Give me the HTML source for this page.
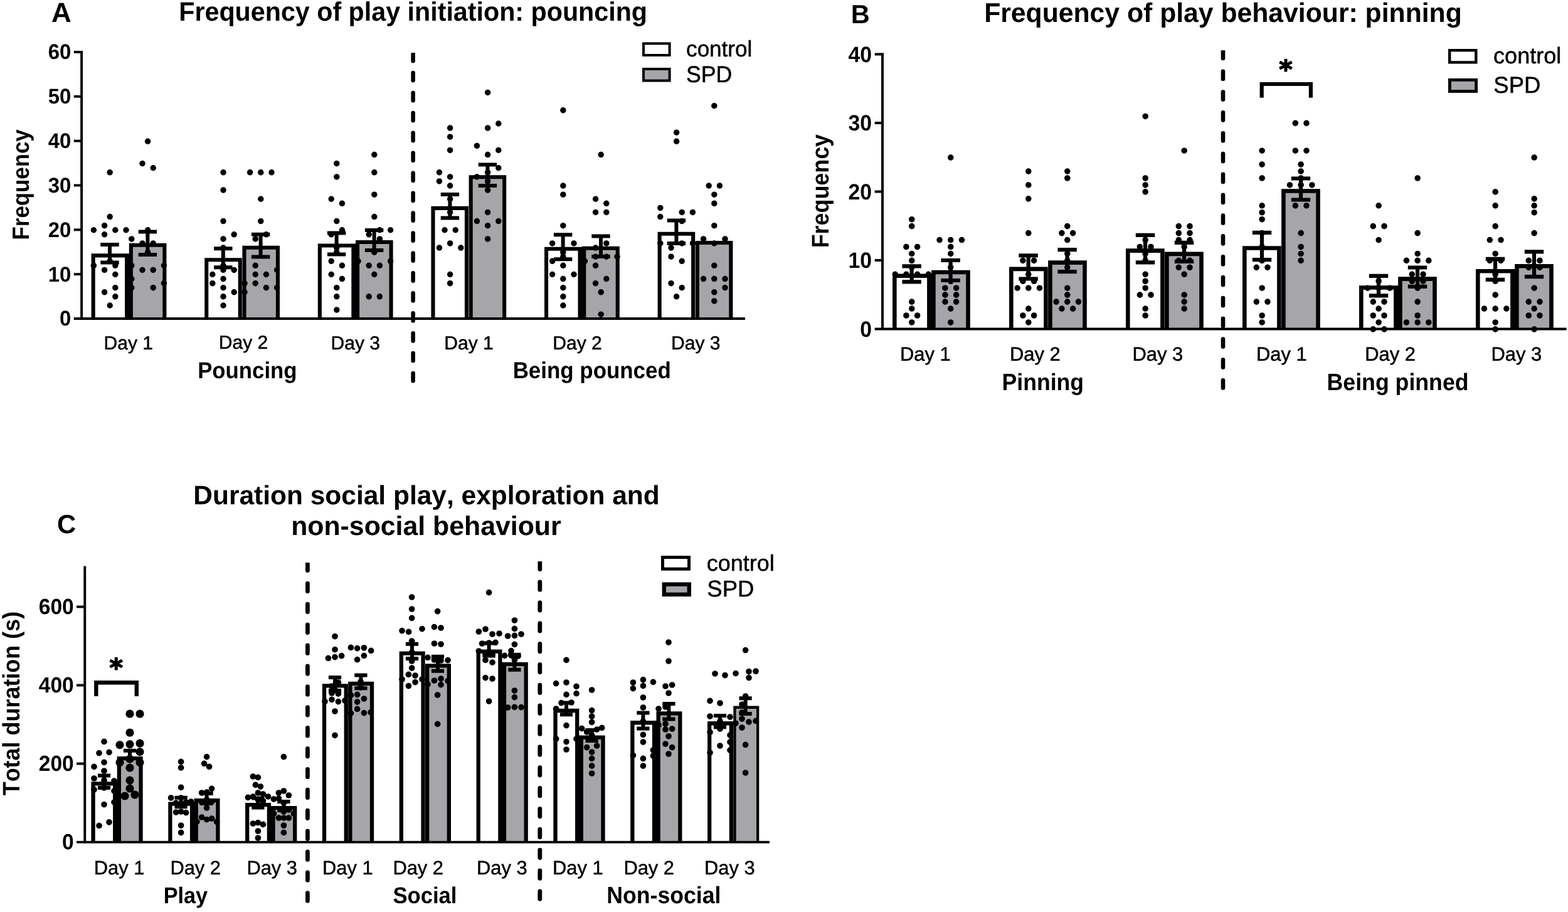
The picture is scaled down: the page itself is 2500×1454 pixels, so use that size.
<!DOCTYPE html>
<html lang="en"><head><meta charset="utf-8"><title>Social play behaviour: pouncing, pinning and durations</title>
<style>
html,body{margin:0;padding:0;background:#fff}
body{width:2500px;height:1454px;overflow:hidden}
svg{display:block}
svg path,svg rect{fill:none;stroke:#000}
svg text{fill:#000;stroke:none;white-space:pre;font-kerning:none;text-rendering:geometricPrecision}
svg .g{fill:#a6a5aa}svg .w{fill:#fff}svg .k{fill:#000;stroke:none}
.r{font-family:"Liberation Sans",sans-serif;font-weight:400;stroke:#000;stroke-width:.5px}
.b{font-family:"Liberation Sans",sans-serif;font-weight:700}
.d{font-family:"DejaVu Sans","Liberation Sans",sans-serif;font-weight:700}
</style></head><body>
<svg width="2500" height="1454" viewBox="0 0 2500 1454">
<rect x="0" y="0" width="2500" height="1454" style="fill:#fff;stroke:none"/>
<g id="panelA">
<path d="M148.65 508V407.35H202.15V508" class="w" stroke-width="6.1"/>
<path d="M208.85 508V390.75H262.35V508" class="g" stroke-width="6.1"/>
<path d="M205.5 404.3L205.5 508" stroke-width="1.8"/>
<path d="M329.25 508V414.3H382.75V508" class="w" stroke-width="6.1"/>
<path d="M389.45 508V394.7H442.95V508" class="g" stroke-width="6.1"/>
<path d="M509.85 508V391.55H563.35V508" class="w" stroke-width="6.1"/>
<path d="M570.05 508V386.05H623.55V508" class="g" stroke-width="6.1"/>
<path d="M566.7 388.5L566.7 508" stroke-width="1.8"/>
<path d="M690.45 508V331.85H743.95V508" class="w" stroke-width="6.1"/>
<path d="M750.65 508V282.3H804.15V508" class="g" stroke-width="6.1"/>
<path d="M871.05 508V396.75H924.55V508" class="w" stroke-width="6.1"/>
<path d="M931.25 508V395.75H984.75V508" class="g" stroke-width="6.1"/>
<path d="M927.9 393.7L927.9 508" stroke-width="1.8"/>
<path d="M1051.65 508V372.75H1105.15V508" class="w" stroke-width="6.1"/>
<path d="M1111.85 508V387.05H1165.35V508" class="g" stroke-width="6.1"/>
<path d="M175.2 274.81h0M175.2 345.54h0M166.6 359.69h0M149.4 366.76h0M183.8 366.76h0M201 366.76h0M166.6 373.83h0M175.2 416.27h0M149.4 423.34h0M183.8 423.34h0M166.6 430.42h0M183.8 437.49h0M183.8 458.71h0M166.6 465.78h0M183.8 472.86h0M175.2 487h0" stroke-width="9.5" stroke-linecap="round"/>
<path d="M160.3 390H189.7M160.3 418.6H189.7M175 390V418.6" stroke-width="6"/>
<path d="M235.6 225.3h0M227 260.67h0M244.2 267.74h0M235.6 366.76h0M209.8 380.91h0M227 387.98h0M244.2 387.98h0M235.6 402.13h0M209.8 423.34h0M261.4 423.34h0M227 430.42h0M244.2 430.42h0M209.8 444.56h0M261.4 451.64h0M209.8 458.71h0M244.2 458.71h0" stroke-width="9.5" stroke-linecap="round"/>
<path d="M220.7 369.4H250.1M220.7 406H250.1M235.4 369.4V406" stroke-width="6"/>
<path d="M356 274.81h0M356 303.1h0M356 352.62h0M373.2 373.83h0M356 380.91h0M356 395.05h0M356 423.34h0M356 430.42h0M373.2 430.42h0M338.8 437.49h0M356 444.56h0M338.8 451.64h0M356 458.71h0M373.2 465.78h0M356 472.86h0M356 487h0" stroke-width="9.5" stroke-linecap="round"/>
<path d="M341.1 396.2H370.5M341.1 426.3H370.5M355.8 396.2V426.3" stroke-width="6"/>
<path d="M398.6 274.81h0M415.8 274.81h0M433 274.81h0M415.8 317.25h0M415.8 352.62h0M424.4 373.83h0M407.2 380.91h0M407.2 423.34h0M441.6 430.42h0M407.2 437.49h0M424.4 437.49h0M390 451.64h0M407.2 451.64h0M424.4 458.71h0M441.6 458.71h0M390 465.78h0" stroke-width="9.5" stroke-linecap="round"/>
<path d="M400.9 373.8H430.3M400.9 409.5H430.3M415.6 373.8V409.5" stroke-width="6"/>
<path d="M536.8 260.67h0M536.8 281.89h0M528.2 317.25h0M545.4 324.32h0M536.8 352.62h0M545.4 366.76h0M528.2 373.83h0M536.8 395.05h0M536.8 402.13h0M528.2 416.27h0M545.4 423.34h0M528.2 437.49h0M545.4 444.56h0M536.8 458.71h0M536.8 472.86h0M536.8 494.07h0" stroke-width="9.5" stroke-linecap="round"/>
<path d="M521.9 371.6H551.3M521.9 405.5H551.3M536.6 371.6V405.5" stroke-width="6"/>
<path d="M596.8 246.52h0M596.8 274.81h0M596.8 310.18h0M596.8 345.54h0M605.4 366.76h0M622.6 366.76h0M588.2 373.83h0M605.4 380.91h0M596.8 402.13h0M571 416.27h0M622.6 416.27h0M588.2 423.34h0M605.4 423.34h0M596.8 437.49h0M588.2 472.86h0M605.4 472.86h0" stroke-width="9.5" stroke-linecap="round"/>
<path d="M581.9 367H611.3M581.9 399H611.3M596.6 367V399" stroke-width="6"/>
<path d="M717.6 204.08h0M717.6 218.23h0M717.6 239.45h0M700.4 274.81h0M717.6 281.89h0M700.4 288.96h0M717.6 296.03h0M717.6 317.25h0M717.6 338.47h0M709 366.76h0M726.2 366.76h0M717.6 387.98h0M700.4 395.05h0M734.8 395.05h0M717.6 437.49h0M717.6 451.64h0" stroke-width="9.5" stroke-linecap="round"/>
<path d="M702.7 310H732.1M702.7 347.5H732.1M717.4 310V347.5" stroke-width="6"/>
<path d="M777.6 147.5h0M794.8 197.01h0M777.6 204.08h0M760.4 232.38h0M794.8 239.45h0M777.6 246.52h0M794.8 267.74h0M777.6 274.81h0M760.4 281.89h0M777.6 288.96h0M777.6 303.1h0M777.6 338.47h0M760.4 352.62h0M794.8 352.62h0M777.6 359.69h0M777.6 380.91h0" stroke-width="9.5" stroke-linecap="round"/>
<path d="M762.7 262.5H792.1M762.7 296H792.1M777.4 262.5V296" stroke-width="6"/>
<path d="M897.8 175.79h0M897.8 296.03h0M897.8 310.18h0M897.8 359.69h0M880.6 387.98h0M915 387.98h0M897.8 402.13h0M897.8 409.2h0M880.6 416.27h0M897.8 423.34h0M880.6 437.49h0M915 437.49h0M897.8 444.56h0M897.8 458.71h0M897.8 472.86h0M897.8 487h0" stroke-width="9.5" stroke-linecap="round"/>
<path d="M882.9 374.2H912.3M882.9 413.2H912.3M897.6 374.2V413.2" stroke-width="6"/>
<path d="M958.2 246.52h0M949.6 317.25h0M966.8 324.32h0M949.6 338.47h0M966.8 338.47h0M966.8 387.98h0M949.6 395.05h0M949.6 409.2h0M966.8 409.2h0M984 409.2h0M932.4 416.27h0M949.6 423.34h0M966.8 444.56h0M949.6 451.64h0M958.2 465.78h0M958.2 501.15h0" stroke-width="9.5" stroke-linecap="round"/>
<path d="M943.3 376.4H972.7M943.3 409H972.7M958 376.4V409" stroke-width="6"/>
<path d="M1078.6 211.16h0M1078.6 225.3h0M1052.8 331.4h0M1087.2 338.47h0M1104.4 338.47h0M1052.8 345.54h0M1087.2 352.62h0M1052.8 387.98h0M1087.2 387.98h0M1104.4 387.98h0M1070 395.05h0M1070 409.2h0M1087.2 416.27h0M1070 451.64h0M1087.2 458.71h0M1078.6 472.86h0" stroke-width="9.5" stroke-linecap="round"/>
<path d="M1063.7 351.4H1093.1M1063.7 388H1093.1M1078.4 351.4V388" stroke-width="6"/>
<path d="M1138.8 168.72h0M1130.2 296.03h0M1147.4 296.03h0M1138.8 310.18h0M1138.8 324.32h0M1138.8 359.69h0M1121.6 380.91h0M1156 380.91h0M1138.8 387.98h0M1138.8 423.34h0M1121.6 444.56h0M1138.8 444.56h0M1156 444.56h0M1156 458.71h0M1138.8 465.78h0M1138.8 479.93h0" stroke-width="9.5" stroke-linecap="round"/>
<path d="M130.1 81L130.1 508" stroke-width="3.9"/>
<path d="M117.8 508L1188 508" stroke-width="3.9"/>
<path d="M117.8 83L130 83" stroke-width="3.9"/>
<path d="M117.8 153.83L130 153.83" stroke-width="3.9"/>
<path d="M117.8 224.67L130 224.67" stroke-width="3.9"/>
<path d="M117.8 295.5L130 295.5" stroke-width="3.9"/>
<path d="M117.8 366.33L130 366.33" stroke-width="3.9"/>
<path d="M117.8 437.17L130 437.17" stroke-width="3.9"/>
<text class="b" font-size="32.9" transform="translate(76.75 94.47) scale(1 1.03)">60</text>
<text class="b" font-size="32.9" transform="translate(76.75 165.3) scale(1 1.03)">50</text>
<text class="b" font-size="32.9" transform="translate(76.75 236.13) scale(1 1.03)">40</text>
<text class="b" font-size="32.9" transform="translate(76.75 306.94) scale(1 1.03)">30</text>
<text class="b" font-size="32.9" transform="translate(76.75 377.8) scale(1 1.03)">20</text>
<text class="b" font-size="32.9" transform="translate(76.75 448.63) scale(1 1.03)">10</text>
<text class="b" font-size="32.9" transform="translate(95.05 519.47) scale(1 1.03)">0</text>
<path d="M655.35 84.2h6.5V97.25a3.25 3.25 0 0 1 -6.5 0Z" class="k"/>
<path d="M658.6 116.05v12.3M658.6 147.98v12.3M658.6 179.91v12.3M658.6 211.84v12.3M658.6 243.77v12.3M658.6 275.7v12.3M658.6 307.63v12.3M658.6 339.56v12.3M658.6 371.49v12.3M658.6 403.42v12.3M658.6 435.35v12.3M658.6 467.28v12.3M658.6 499.21v12.3M658.6 531.14v12.3M658.6 563.07v12.3M658.6 595v12.3" stroke-width="6.5" stroke-linecap="round"/>
</g>
<g id="textA">
<text class="b" font-size="43.97" x="82.11" y="35" >A</text>
<text class="b" font-size="41.24" transform="translate(285.24 33) scale(1 1.03)" >Frequency of play initiation: pouncing</text>
<text class="b" font-size="34.83" transform="translate(45.9 382.43) rotate(-90) scale(1 1.08)">Frequency</text>
<text class="r" font-size="30" x="165.54" y="556.75" >Day 1</text>
<text class="r" font-size="30" x="348.79" y="555.75" >Day 2</text>
<text class="r" font-size="30" x="527.54" y="556.75" >Day 3</text>
<text class="r" font-size="30" x="708.29" y="556.75" >Day 1</text>
<text class="r" font-size="30" x="881.29" y="556.75" >Day 2</text>
<text class="r" font-size="30" x="1070.04" y="556.75" >Day 3</text>
<text class="b" font-size="34.77" transform="translate(315.17 603) scale(1 1.06)" >Pouncing</text>
<text class="b" font-size="34.91" transform="translate(817.66 603) scale(1 1.06)" >Being pounced</text>
<rect x="1026" y="69.4" width="41.6" height="18.6" class="w" stroke-width="4"/>
<rect x="1026" y="110" width="41.6" height="18.6" class="g" stroke-width="4"/>
<text class="r" font-size="35.06" transform="translate(1094.11 90) scale(1 1.02)" >control</text>
<text class="r" font-size="35.66" transform="translate(1093.98 130.6) scale(1 1.03)" >SPD</text>
</g>
<g id="panelB">
<path d="M1426.3 524.5V439.8H1481.4V524.5" class="w" stroke-width="6.6"/>
<path d="M1488.4 524.5V434H1543.5V524.5" class="g" stroke-width="6.6"/>
<path d="M1484.9 436.5L1484.9 524.5" stroke-width="1.8"/>
<path d="M1612.3 524.5V428.9H1667.4V524.5" class="w" stroke-width="6.6"/>
<path d="M1674.4 524.5V418.6H1729.5V524.5" class="g" stroke-width="6.6"/>
<path d="M1798.3 524.5V399.6H1853.4V524.5" class="w" stroke-width="6.6"/>
<path d="M1860.4 524.5V404.85H1915.5V524.5" class="g" stroke-width="6.6"/>
<path d="M1984.3 524.5V395.5H2039.4V524.5" class="w" stroke-width="6.6"/>
<path d="M2046.4 524.5V304.5H2101.5V524.5" class="g" stroke-width="6.6"/>
<path d="M2170.3 524.5V458.55H2225.4V524.5" class="w" stroke-width="6.6"/>
<path d="M2232.4 524.5V444.65H2287.5V524.5" class="g" stroke-width="6.6"/>
<path d="M2228.9 455.25L2228.9 524.5" stroke-width="1.8"/>
<path d="M2356.3 524.5V432.3H2411.4V524.5" class="w" stroke-width="6.6"/>
<path d="M2418.4 524.5V424.2H2473.5V524.5" class="g" stroke-width="6.6"/>
<path d="M2414.9 429L2414.9 524.5" stroke-width="1.8"/>
<path d="M1453.75 349.7h0M1453.75 360.65h0M1444.9 393.5h0M1462.6 393.5h0M1453.75 404.45h0M1453.75 415.4h0M1453.75 426.35h0M1427.2 437.3h0M1444.9 437.3h0M1462.6 437.3h0M1480.3 437.3h0M1453.75 481.1h0M1453.75 492.05h0M1444.9 503h0M1462.6 503h0M1453.75 513.95h0" stroke-width="9.56" stroke-linecap="round"/>
<path d="M1438.4 424.3H1468.8M1438.4 449.3H1468.8M1453.6 424.3V449.3" stroke-width="6.2"/>
<path d="M1515.75 251.15h0M1498.05 382.55h0M1515.75 382.55h0M1533.45 382.55h0M1515.75 393.5h0M1515.75 404.45h0M1515.75 426.35h0M1515.75 448.25h0M1506.9 459.2h0M1524.6 459.2h0M1506.9 470.15h0M1524.6 470.15h0M1506.9 481.1h0M1524.6 481.1h0M1515.75 492.05h0M1515.75 513.95h0" stroke-width="9.56" stroke-linecap="round"/>
<path d="M1500.4 415H1530.8M1500.4 447H1530.8M1515.6 415V447" stroke-width="6.2"/>
<path d="M1639.75 273.05h0M1639.75 294.95h0M1639.75 316.85h0M1639.75 371.6h0M1630.9 415.4h0M1648.6 415.4h0M1639.75 437.3h0M1630.9 448.25h0M1648.6 448.25h0M1622.05 459.2h0M1639.75 459.2h0M1657.45 459.2h0M1639.75 492.05h0M1630.9 503h0M1648.6 503h0M1639.75 513.95h0" stroke-width="9.56" stroke-linecap="round"/>
<path d="M1624.4 407.3H1654.8M1624.4 444.5H1654.8M1639.6 407.3V444.5" stroke-width="6.2"/>
<path d="M1701.75 273.05h0M1701.75 284h0M1701.75 360.65h0M1692.9 371.6h0M1710.6 371.6h0M1701.75 382.55h0M1701.75 404.45h0M1701.75 415.4h0M1701.75 426.35h0M1701.75 459.2h0M1701.75 470.15h0M1684.05 481.1h0M1701.75 481.1h0M1719.45 481.1h0M1692.9 492.05h0M1710.6 492.05h0" stroke-width="9.56" stroke-linecap="round"/>
<path d="M1686.4 398.1H1716.8M1686.4 433.1H1716.8M1701.6 398.1V433.1" stroke-width="6.2"/>
<path d="M1826.15 185.45h0M1826.15 284h0M1826.15 294.95h0M1826.15 305.9h0M1826.15 382.55h0M1817.3 393.5h0M1835 393.5h0M1826.15 404.45h0M1826.15 415.4h0M1826.15 437.3h0M1826.15 448.25h0M1826.15 459.2h0M1817.3 470.15h0M1835 470.15h0M1826.15 492.05h0M1826.15 503h0" stroke-width="9.56" stroke-linecap="round"/>
<path d="M1810.8 374.8H1841.2M1810.8 418.4H1841.2M1826 374.8V418.4" stroke-width="6.2"/>
<path d="M1888.15 240.2h0M1879.3 360.65h0M1897 360.65h0M1879.3 371.6h0M1897 371.6h0M1879.3 382.55h0M1897 382.55h0M1888.15 393.5h0M1879.3 415.4h0M1897 415.4h0M1879.3 426.35h0M1897 426.35h0M1888.15 437.3h0M1888.15 470.15h0M1888.15 481.1h0M1888.15 492.05h0" stroke-width="9.56" stroke-linecap="round"/>
<path d="M1872.8 386.9H1903.2M1872.8 416.8H1903.2M1888 386.9V416.8" stroke-width="6.2"/>
<path d="M2012.15 240.2h0M2012.15 262.1h0M2012.15 284h0M2012.15 327.8h0M2012.15 338.75h0M2012.15 349.7h0M2012.15 371.6h0M2012.15 393.5h0M2012.15 415.4h0M2003.3 426.35h0M2021 426.35h0M2012.15 459.2h0M2003.3 481.1h0M2021 481.1h0M2012.15 503h0M2012.15 513.95h0" stroke-width="9.56" stroke-linecap="round"/>
<path d="M1996.8 370.9H2027.2M1996.8 414.1H2027.2M2012 370.9V414.1" stroke-width="6.2"/>
<path d="M2065.3 196.4h0M2083 196.4h0M2065.3 240.2h0M2083 240.2h0M2074.15 262.1h0M2074.15 273.05h0M2074.15 284h0M2056.45 294.95h0M2074.15 294.95h0M2091.85 294.95h0M2065.3 327.8h0M2083 327.8h0M2074.15 371.6h0M2074.15 393.5h0M2074.15 404.45h0M2074.15 415.4h0" stroke-width="9.56" stroke-linecap="round"/>
<path d="M2058.8 284.5H2089.2M2058.8 318.5H2089.2M2074 284.5V318.5" stroke-width="6.2"/>
<path d="M2198.15 327.8h0M2189.3 360.65h0M2207 360.65h0M2198.15 382.55h0M2198.15 448.25h0M2180.45 459.2h0M2198.15 459.2h0M2215.85 459.2h0M2189.3 481.1h0M2207 481.1h0M2198.15 492.05h0M2189.3 503h0M2207 503h0M2198.15 513.95h0M2189.3 524.9h0M2207 524.9h0" stroke-width="9.56" stroke-linecap="round"/>
<path d="M2182.8 439.8H2213.2M2182.8 471.3H2213.2M2198 439.8V471.3" stroke-width="6.2"/>
<path d="M2260.15 284h0M2260.15 371.6h0M2260.15 404.45h0M2242.45 415.4h0M2260.15 415.4h0M2277.85 415.4h0M2251.3 437.3h0M2269 437.3h0M2251.3 448.25h0M2269 448.25h0M2260.15 459.2h0M2260.15 481.1h0M2260.15 503h0M2242.45 513.95h0M2260.15 513.95h0M2277.85 513.95h0" stroke-width="9.56" stroke-linecap="round"/>
<path d="M2244.8 426.5H2275.2M2244.8 456.8H2275.2M2260 426.5V456.8" stroke-width="6.2"/>
<path d="M2384.15 305.9h0M2384.15 327.8h0M2384.15 360.65h0M2375.3 382.55h0M2393 382.55h0M2384.15 404.45h0M2375.3 415.4h0M2393 415.4h0M2384.15 437.3h0M2384.15 448.25h0M2384.15 470.15h0M2366.45 492.05h0M2384.15 492.05h0M2401.85 492.05h0M2384.15 513.95h0M2384.15 524.9h0" stroke-width="9.56" stroke-linecap="round"/>
<path d="M2368.8 412.8H2399.2M2368.8 445.8H2399.2M2384 412.8V445.8" stroke-width="6.2"/>
<path d="M2446.15 251.15h0M2446.15 316.85h0M2446.15 327.8h0M2446.15 338.75h0M2446.15 371.6h0M2437.3 415.4h0M2455 415.4h0M2437.3 426.35h0M2455 426.35h0M2446.15 459.2h0M2437.3 481.1h0M2455 481.1h0M2446.15 492.05h0M2437.3 503h0M2455 503h0M2446.15 524.9h0" stroke-width="9.56" stroke-linecap="round"/>
<path d="M2430.8 401.3H2461.2M2430.8 441.1H2461.2M2446 401.3V441.1" stroke-width="6.2"/>
<path d="M1407 84.5L1407 524.5" stroke-width="4"/>
<path d="M1394.7 524.5L2497.5 524.5" stroke-width="4"/>
<path d="M1394.7 86.5L1407 86.5" stroke-width="4"/>
<path d="M1394.7 196L1407 196" stroke-width="4"/>
<path d="M1394.7 305.5L1407 305.5" stroke-width="4"/>
<path d="M1394.7 415L1407 415" stroke-width="4"/>
<text class="b" font-size="33.7" transform="translate(1352.5 98.58) scale(1 1.05)">40</text>
<text class="b" font-size="33.7" transform="translate(1352.5 208.05) scale(1 1.05)">30</text>
<text class="b" font-size="33.7" transform="translate(1352.5 317.58) scale(1 1.05)">20</text>
<text class="b" font-size="33.7" transform="translate(1352.5 427.08) scale(1 1.05)">10</text>
<text class="b" font-size="33.7" transform="translate(1371.24 536.58) scale(1 1.05)">0</text>
<path d="M1946.7 80.3h6.6V93a3.3 3.3 0 0 1 -6.6 0Z" class="k"/>
<path d="M1950 113.7v12.2M1950 146.54v12.2M1950 179.38v12.2M1950 212.22v12.2M1950 245.06v12.2M1950 277.9v12.2M1950 310.74v12.2M1950 343.58v12.2M1950 376.42v12.2M1950 409.26v12.2M1950 442.1v12.2M1950 474.94v12.2M1950 507.78v12.2M1950 540.62v12.2M1950 573.46v12.2M1950 606.3v12.2" stroke-width="6.6" stroke-linecap="round"/>
<path d="M2011.7 155.8V134H2089.9V155.8" stroke-width="6.2" stroke-linejoin="miter"/>
<text class="d" font-size="41" x="2039.13" y="124.51" style="stroke:#000;stroke-width:1.6px;stroke-linejoin:round">*</text>
</g>
<g id="textB">
<text class="b" font-size="41.65" x="1356.81" y="37" >B</text>
<text class="b" font-size="42.71" transform="translate(1569.14 34.85) scale(1 1.01)" >Frequency of play behaviour: pinning</text>
<text class="b" font-size="35.87" transform="translate(1320.8 395.3) rotate(-90) scale(1 1.07)">Frequency</text>
<text class="r" font-size="30.9" x="1434.97" y="574.5" >Day 1</text>
<text class="r" font-size="30.9" x="1609.97" y="574.5" >Day 2</text>
<text class="r" font-size="30.9" x="1805.47" y="574.5" >Day 3</text>
<text class="r" font-size="30.9" x="2002.97" y="574.5" >Day 1</text>
<text class="r" font-size="30.9" x="2176.22" y="574.5" >Day 2</text>
<text class="r" font-size="30.9" x="2377.47" y="574.5" >Day 3</text>
<text class="b" font-size="35.6" transform="translate(1597.62 621.75) scale(1 1.06)" >Pinning</text>
<text class="b" font-size="35.68" transform="translate(2115.61 621.75) scale(1 1.06)" >Being pinned</text>
<rect x="2311.2" y="80.2" width="42.1" height="19.2" class="w" stroke-width="4.4"/>
<rect x="2311.4" y="127.4" width="42.2" height="18.2" class="g" stroke-width="4.8"/>
<text class="r" font-size="36.1" x="2381.07" y="100.6" >control</text>
<text class="r" font-size="36.48" transform="translate(2381.34 148) scale(1 1.01)" >SPD</text>
</g>
<g id="panelC">
<path d="M148.55 1342.6V1249.45H183.25V1342.6" class="w" stroke-width="6.3"/>
<path d="M189.85 1342.6V1209.15H224.55V1342.6" class="g" stroke-width="6.3"/>
<path d="M186.55 1246.3L186.55 1342.6" stroke-width="1.8"/>
<path d="M271.38 1342.6V1281.65H306.08V1342.6" class="w" stroke-width="6.3"/>
<path d="M312.68 1342.6V1276.15H347.38V1342.6" class="g" stroke-width="6.3"/>
<path d="M309.38 1278.5L309.38 1342.6" stroke-width="1.8"/>
<path d="M394.2 1342.6V1283.15H428.9V1342.6" class="w" stroke-width="6.3"/>
<path d="M435.5 1342.6V1288.15H470.2V1342.6" class="g" stroke-width="6.3"/>
<path d="M432.2 1285L432.2 1342.6" stroke-width="1.8"/>
<path d="M517.02 1342.6V1093.45H551.73V1342.6" class="w" stroke-width="6.3"/>
<path d="M558.32 1342.6V1089.95H593.02V1342.6" class="g" stroke-width="6.3"/>
<path d="M639.85 1342.6V1041.55H674.55V1342.6" class="w" stroke-width="6.3"/>
<path d="M681.15 1342.6V1061.45H715.85V1342.6" class="g" stroke-width="6.3"/>
<path d="M762.67 1342.6V1038.65H797.38V1342.6" class="w" stroke-width="6.3"/>
<path d="M803.97 1342.6V1058.95H838.67V1342.6" class="g" stroke-width="6.3"/>
<path d="M800.67 1055.8L800.67 1342.6" stroke-width="1.8"/>
<path d="M885.5 1342.6V1133H920.2V1342.6" class="w" stroke-width="6.3"/>
<path d="M926.8 1342.6V1175.65H961.5V1342.6" class="g" stroke-width="6.3"/>
<path d="M923.5 1172.5L923.5 1342.6" stroke-width="1.8"/>
<path d="M1008.32 1342.6V1152.25H1043.02V1342.6" class="w" stroke-width="6.3"/>
<path d="M1049.62 1342.6V1137.4H1084.32V1342.6" class="g" stroke-width="6.3"/>
<path d="M1046.33 1149.1L1046.33 1342.6" stroke-width="1.8"/>
<path d="M1131.15 1342.6V1153.25H1165.85V1342.6" class="w" stroke-width="6.3"/>
<path d="M1171.45 1342.6V1127.75H1208.15V1342.6" class="g" stroke-width="4.3"/>
<path d="M166 1182.4h0M158 1200.6h0M174 1199.4h0M166 1215.4h0M150 1222.4h0M166 1229h0M150 1241h0M182 1245h0M166 1256h0M150 1259h0M182 1261h0M182 1279h0M166 1282.6h0M174 1310.8h0M158 1316.4h0M166 1244h0" stroke-width="9.7" stroke-linecap="round"/>
<path d="M155.9 1236.6H176.1M155.9 1256H176.1M166 1236.6V1256" stroke-width="6"/>
<path d="M207 1138h0M223 1138h0M207 1168h0M223 1185h0M207 1186.6h0M191 1187.6h0M223 1198.6h0M207 1210h0M191 1215.6h0M223 1215.6h0M207 1224h0M207 1244h0M207 1257h0M199 1269h0M215 1267h0" stroke-width="13.2" stroke-linecap="round"/>
<path d="M196.9 1196.8H217.1M207 1196.8V1215.2" stroke-width="6"/>
<path d="M288.6 1214.4h0M288.6 1224h0M288.6 1255.4h0M272.6 1272h0M288.6 1272h0M296.6 1279h0M304.6 1278h0M280.6 1295h0M288.6 1294h0M296.6 1295.6h0M288.6 1316h0M288.6 1327.4h0M280.6 1280h0M288.6 1283h0" stroke-width="9.7" stroke-linecap="round"/>
<path d="M278.5 1271.8H298.7M278.5 1286.2H298.7M288.6 1271.8V1286.2" stroke-width="6"/>
<path d="M329.6 1206.6h0M325.6 1217.4h0M333.6 1222.4h0M337.6 1257.4h0M321.6 1264h0M329.6 1263h0M329.6 1288h0M321.6 1303h0M329.6 1306.6h0M337.6 1305h0M345.6 1310.4h0M313.8 1310h0M329.6 1275h0M337.6 1278h0M321.6 1279h0" stroke-width="9.7" stroke-linecap="round"/>
<path d="M319.5 1265H339.7M319.5 1281H339.7M329.6 1265V1281" stroke-width="6"/>
<path d="M403.4 1238h0M411.4 1239.4h0M407.4 1251.4h0M415.4 1254h0M411.4 1264h0M419.4 1266h0M395.4 1271.4h0M403.4 1270h0M427.4 1270h0M419.4 1277h0M411.4 1275h0M403.4 1313h0M411.4 1311.6h0M419.4 1314.4h0M411.4 1325h0M411.4 1336h0" stroke-width="9.7" stroke-linecap="round"/>
<path d="M401.3 1272.5H421.5M401.3 1287.5H421.5M411.4 1272.5V1287.5" stroke-width="6"/>
<path d="M452.4 1206.6h0M452.4 1261h0M444.4 1264h0M460.4 1268h0M436.4 1274h0M444.4 1273h0M452.4 1280h0M444.4 1304h0M452.4 1304h0M460.4 1304h0M468.4 1297h0M436.4 1297h0M452.4 1294h0M460.4 1291h0M452.4 1316h0M452.4 1327.4h0" stroke-width="9.7" stroke-linecap="round"/>
<path d="M442.3 1278H462.5M442.3 1292H462.5M452.4 1278V1292" stroke-width="6"/>
<path d="M534 1014.6h0M534 1035.6h0M523.4 1049.4h0M534 1047.6h0M544.6 1045.6h0M539.4 1088h0M529 1105h0M539.4 1106h0M518 1118.4h0M529 1115.4h0M539.4 1118.6h0M550 1117h0M534 1134h0M534 1172.4h0M529 1094h0M534 1100h0" stroke-width="9.7" stroke-linecap="round"/>
<path d="M523.9 1080H544.1M523.9 1101H544.1M534 1080V1101" stroke-width="6"/>
<path d="M559.4 1032.4h0M569.6 1033.6h0M580.4 1032.8h0M591.6 1037.4h0M580.4 1045.4h0M569.6 1051.6h0M559.4 1108.4h0M569.6 1107.4h0M580.4 1114h0M569.6 1119h0M569.6 1130.4h0M559.4 1137h0M580.4 1136.6h0M591 1135.6h0M575 1087h0M575 1096h0" stroke-width="9.7" stroke-linecap="round"/>
<path d="M565.3 1076.4H585.5M565.3 1097.2H585.5M575.4 1076.4V1097.2" stroke-width="6"/>
<path d="M656.6 952h0M656.6 971h0M656.6 985.4h0M673 1002.6h0M641 1005.6h0M651.6 1007.4h0M656.6 1022h0M656.6 1054h0M656.6 1065h0M651.4 1075.4h0M662 1077h0M641 1083h0M673 1083h0M662 1087.6h0M651.4 1093.6h0M656.6 1040h0" stroke-width="9.7" stroke-linecap="round"/>
<path d="M646.9 1026.8H667.1M646.9 1050H667.1M657 1026.8V1050" stroke-width="6"/>
<path d="M697.6 974.6h0M692.4 999.6h0M703 1001h0M692.4 1026h0M703 1027h0M682 1048.4h0M714 1052.6h0M703 1053h0M703 1082h0M692.4 1085h0M714 1085.6h0M682 1091h0M703 1091.6h0M697.6 1108h0M697.6 1154.4h0M692.4 1052h0" stroke-width="9.7" stroke-linecap="round"/>
<path d="M687.9 1046.8H708.1M687.9 1069.8H708.1M698 1046.8V1069.8" stroke-width="6"/>
<path d="M779.6 944.6h0M774 1003h0M763.4 1007h0M785 1011h0M796 1010h0M768.6 1026h0M790 1024.4h0M779.6 1025h0M763.4 1038h0M774 1052.4h0M785 1056h0M774 1080.6h0M785 1082h0M779.6 1118h0M774 1043h0M785 1043h0" stroke-width="9.7" stroke-linecap="round"/>
<path d="M769.5 1025.5H789.7M769.5 1045.4H789.7M779.6 1025.5V1045.4" stroke-width="6"/>
<path d="M820.4 989h0M820.4 1002.4h0M809.6 1014h0M820.4 1013.4h0M831 1011h0M820.4 1027.4h0M815 1037.6h0M804.6 1045.4h0M815 1045h0M826 1046h0M820.4 1052h0M820.4 1101h0M820.4 1111.6h0M809.6 1128h0M820.4 1127.4h0M831 1127.6h0" stroke-width="9.7" stroke-linecap="round"/>
<path d="M810.3 1043.8H830.5M810.3 1067.8H830.5M820.4 1043.8V1067.8" stroke-width="6"/>
<path d="M903 1052.4h0M886.6 1089.6h0M903 1088h0M919 1094.4h0M903 1107.4h0M919 1105.6h0M895 1120.6h0M911 1120h0M886.6 1130h0M903 1156.6h0M886.6 1178h0M919 1178h0M903 1182.6h0M903 1195h0" stroke-width="9.7" stroke-linecap="round"/>
<path d="M892.9 1120.5H913.1M892.9 1139.2H913.1M903 1120.5V1139.2" stroke-width="6"/>
<path d="M943.6 1100h0M943.6 1132.6h0M943.6 1142h0M943.6 1151.4h0M927.6 1161.4h0M959.6 1160.4h0M951.6 1163h0M935.6 1167h0M935.6 1191.6h0M951.6 1189h0M943.6 1199h0M943.6 1209.4h0M943.6 1221h0M943.6 1233h0M943.6 1172h0" stroke-width="9.7" stroke-linecap="round"/>
<path d="M933.5 1164H953.7M933.5 1181H953.7M943.6 1164V1181" stroke-width="6"/>
<path d="M1025.4 1083.6h0M1009.4 1088h0M1041.4 1087.4h0M1025.4 1093.4h0M1009.4 1097.6h0M1025.4 1112h0M1025.4 1128h0M1025.4 1171.4h0M1025.4 1183h0M1009.4 1204.4h0M1041.4 1196h0M1041.4 1205h0M1025.4 1209.4h0M1025.4 1221h0M1025.4 1150h0" stroke-width="9.7" stroke-linecap="round"/>
<path d="M1015.3 1136.6H1035.5M1015.3 1161.6H1035.5M1025.4 1136.6V1161.6" stroke-width="6"/>
<path d="M1066 1024h0M1066 1054h0M1061 1094h0M1071.6 1092h0M1066 1105h0M1050 1130h0M1061 1127h0M1050 1156h0M1061 1154h0M1061 1163h0M1071.6 1162h0M1066 1173.8h0M1061 1186h0M1071.6 1191.6h0M1066 1202h0" stroke-width="9.7" stroke-linecap="round"/>
<path d="M1056.3 1122H1076.5M1056.3 1146.5H1076.5M1066.4 1122V1146.5" stroke-width="6"/>
<path d="M1140 1074h0M1156 1076.6h0M1132 1117.4h0M1148 1121h0M1132 1142h0M1164 1143h0M1148 1150h0M1148 1162h0M1132 1167.4h0M1164 1172h0M1164 1183h0M1148 1189h0M1132 1200h0M1164 1196h0" stroke-width="9.7" stroke-linecap="round"/>
<path d="M1137.9 1141H1158.1M1137.9 1159.2H1158.1M1148 1141V1159.2" stroke-width="6"/>
<path d="M1188.6 1036.6h0M1173 1073.6h0M1194 1070.6h0M1205 1070.2h0M1194 1080.6h0M1188.6 1110h0M1183 1123h0M1183 1136h0M1183 1146h0M1194 1151h0M1205 1149.4h0M1173 1153h0M1183 1160h0M1188.6 1187.4h0M1188.6 1232h0" stroke-width="9.7" stroke-linecap="round"/>
<path d="M1178.5 1113.2H1198.7M1178.5 1138H1198.7M1188.6 1113.2V1138" stroke-width="6"/>
<path d="M135.25 902.4L135.25 1342.6" stroke-width="3.9"/>
<path d="M122 1342.6L1227 1342.6" stroke-width="3.9"/>
<path d="M122 967.4L135.25 967.4" stroke-width="3.9"/>
<path d="M122 1092.5L135.25 1092.5" stroke-width="3.9"/>
<path d="M122 1217.5L135.25 1217.5" stroke-width="3.9"/>
<text class="b" font-size="33.6" transform="translate(61.72 979.23) scale(1 1.04)">600</text>
<text class="b" font-size="33.6" transform="translate(61.72 1104.33) scale(1 1.04)">400</text>
<text class="b" font-size="33.6" transform="translate(61.72 1229.33) scale(1 1.04)">200</text>
<text class="b" font-size="33.6" transform="translate(99.09 1354.43) scale(1 1.04)">0</text>
<path d="M487 897h6.8V909.6a3.4 3.4 0 0 1 -6.8 0Z" class="k"/>
<path d="M490.4 930.2v12.5M490.4 963.1v12.5M490.4 996v12.5M490.4 1028.9v12.5M490.4 1061.8v12.5M490.4 1094.7v12.5M490.4 1127.6v12.5M490.4 1160.5v12.5M490.4 1193.4v12.5M490.4 1226.3v12.5M490.4 1259.2v12.5M490.4 1292.1v12.5M490.4 1325v12.5M490.4 1357.9v12.5M490.4 1390.8v12.5M490.4 1423.7v12.5" stroke-width="6.8" stroke-linecap="round"/>
<path d="M857.4 895h6.8V907.6a3.4 3.4 0 0 1 -6.8 0Z" class="k"/>
<path d="M860.8 927.8v12.4M860.8 960.67v12.4M860.8 993.54v12.4M860.8 1026.41v12.4M860.8 1059.28v12.4M860.8 1092.15v12.4M860.8 1125.02v12.4M860.8 1157.89v12.4M860.8 1190.76v12.4M860.8 1223.63v12.4M860.8 1256.5v12.4M860.8 1289.37v12.4M860.8 1322.24v12.4M860.8 1355.11v12.4M860.8 1387.98v12.4M860.8 1420.85v12.4" stroke-width="6.8" stroke-linecap="round"/>
<path d="M153.3 1110.1V1088.2H217.8V1110.1" stroke-width="6.4" stroke-linejoin="miter"/>
<text class="d" font-size="41" x="174.38" y="1078.71" style="stroke:#000;stroke-width:1.6px;stroke-linejoin:round">*</text>
</g>
<g id="textC">
<text class="b" font-size="41.91" x="90.88" y="850.4" >C</text>
<text class="b" font-size="42.47" x="308.36" y="804.4" >Duration social play, exploration and</text>
<text class="b" font-size="42.8" x="464.18" y="853" >non-social behaviour</text>
<text class="b" font-size="35.95" transform="translate(30.8 1268.3) rotate(-90) scale(1 1.06)">Total duration (s)</text>
<text class="r" font-size="30.8" x="149.87" y="1393.6" >Day 1</text>
<text class="r" font-size="30.8" x="271.47" y="1393.6" >Day 2</text>
<text class="r" font-size="30.8" x="393.47" y="1393.6" >Day 3</text>
<text class="r" font-size="30.8" x="514.07" y="1393.6" >Day 1</text>
<text class="r" font-size="30.8" x="626.47" y="1393.6" >Day 2</text>
<text class="r" font-size="30.8" x="760.07" y="1393.6" >Day 3</text>
<text class="r" font-size="30.8" x="881.07" y="1393.6" >Day 1</text>
<text class="r" font-size="30.8" x="994.47" y="1393.6" >Day 2</text>
<text class="r" font-size="30.8" x="1123.07" y="1393.6" >Day 3</text>
<text class="b" font-size="34.26" transform="translate(260.71 1440) scale(1 1.06)" >Play</text>
<text class="b" font-size="34.64" transform="translate(626.4 1440) scale(1 1.06)" >Social</text>
<text class="b" font-size="35.66" transform="translate(967.21 1440) scale(1 1.06)" >Non-social</text>
<rect x="1056.5" y="888.5" width="42" height="18.6" class="w" stroke-width="5"/>
<rect x="1058.8" y="931.6" width="40" height="16.2" class="g" stroke-width="6.4"/>
<text class="r" font-size="35.96" x="1126.87" y="909.9" >control</text>
<text class="r" font-size="36.48" x="1127.34" y="950.9" >SPD</text>
</g>
</svg>
</body></html>
